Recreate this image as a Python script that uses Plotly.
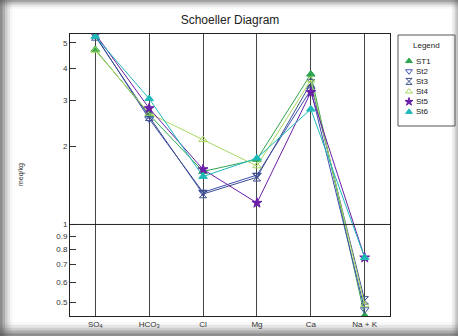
import plotly.graph_objects as go

categories = ["SO<sub>4</sub>", "HCO<sub>3</sub>", "Cl", "Mg", "Ca", "Na + K"]
series_names = ["ST1", "St2", "St3", "St4", "St5", "St6"]
st1 = [4.72, 2.65, 1.60, 1.78, 3.79, 0.445]
st2 = [5.35, 2.55, 1.33, 1.55, 3.30, 0.47]
st3 = [5.30, 2.60, 1.31, 1.52, 3.50, 0.51]
st4 = [4.68, 2.68, 2.12, 1.68, 3.60, 0.49]
st5 = [5.42, 2.80, 1.63, 1.21, 3.23, 0.745]
st6 = [5.30, 3.05, 1.53, 1.80, 2.78, 0.745]
y_ticks = [0.5, 0.6, 0.7, 0.8, 0.9, 1, 2, 3, 4, 5]
y_tick_text = ["0.5", "0.6", "0.7", "0.8", "0.9", "1", "2", "3", "4", "5"]

values = [st1, st2, st3, st4, st5, st6]
colors = ["#2fa44f", "#3f4fb0", "#3c4f8c", "#a8d860", "#6a1fa8", "#1fb8b8"]
symbols = ["triangle-up", "triangle-down-open", "hourglass-open",
           "triangle-up-open", "star", "triangle-up"]

W, H = 458, 336
FONT = "Arial, Liberation Sans, sans-serif"


def px(x):
    return x / W


def py(y):
    return 1 - y / H


fig = go.Figure()
x_idx = list(range(len(categories)))

for name, vals, c, s in zip(series_names, values, colors, symbols):
    fig.add_trace(go.Scatter(
        x=x_idx, y=vals, mode="lines+markers", name=name,
        line=dict(color=c, width=1),
        marker=dict(symbol=s, size=7.5, color=c, line=dict(color=c, width=1)),
        showlegend=False))

# hand-made legend (compact rows) on its own axes
leg_rows = list(range(len(series_names)))
fig.add_trace(go.Scatter(
    x=[0] * len(series_names), y=leg_rows, mode="markers",
    marker=dict(symbol=symbols, size=6, color=colors,
                line=dict(color=colors, width=1)),
    xaxis="x2", yaxis="y2", showlegend=False, hoverinfo="skip", cliponaxis=False))

# frame shadow
shapes = []
for i, op in enumerate([0.35, 0.25, 0.17, 0.1, 0.05]):
    w = 2.5 * (i + 1)
    shapes.append(dict(type="rect", xref="paper", yref="paper", layer="below",
                       x0=0, x1=px(w), y0=0, y1=1,
                       fillcolor="#555", opacity=op, line_width=0))
    shapes.append(dict(type="rect", xref="paper", yref="paper", layer="below",
                       x0=0, x1=1, y0=py(w * 0.7), y1=1,
                       fillcolor="#555", opacity=op * 0.8, line_width=0))
    shapes.append(dict(type="rect", xref="paper", yref="paper", layer="below",
                       x0=0, x1=1, y0=0, y1=(w * 1.1) / H,
                       fillcolor="#555", opacity=op, line_width=0))
    shapes.append(dict(type="rect", xref="paper", yref="paper", layer="below",
                       x0=1 - px(w * 0.6), x1=1, y0=0, y1=1,
                       fillcolor="#555", opacity=op * 0.5, line_width=0))

shapes += [
    dict(type="line", xref="x domain", yref="y", x0=0, x1=1, y0=1, y1=1,
         line=dict(color="#222", width=1)),
    dict(type="rect", xref="paper", yref="paper", x0=px(398), x1=px(455),
         y0=py(126), y1=py(35), line=dict(color="#555", width=1),
         fillcolor="rgba(0,0,0,0)"),
]

legend_text = [
    dict(text=n, xref="paper", yref="y2", x=px(414), y=r, xanchor="left",
         yanchor="middle", showarrow=False,
         font=dict(size=8, family=FONT, color="#222"))
    for n, r in zip(series_names, leg_rows)
]

fig.update_layout(
    width=W, height=H,
    margin=dict(l=0, r=0, t=0, b=0),
    paper_bgcolor="white", plot_bgcolor="white",
    font=dict(family=FONT, size=8, color="#333"),
    showlegend=False,
    title=dict(text="Schoeller Diagram", x=px(230), xref="paper", xanchor="center",
               y=1 - 20 / H, yref="container", yanchor="middle",
               font=dict(family=FONT, size=12, color="#222")),
    xaxis=dict(domain=[px(70), px(390)], range=[-0.47, 5.47], tickvals=x_idx,
               ticktext=categories,
               showgrid=True, gridcolor="#444", gridwidth=1,
               showline=True, linecolor="#222", linewidth=1, mirror=True,
               ticks="", zeroline=False, tickfont=dict(size=8, color="#333")),
    yaxis=dict(domain=[py(316), py(34)], type="log", range=[-0.3526, 0.7336],
               tickvals=y_ticks, ticktext=y_tick_text, showgrid=False,
               showline=True, linecolor="#222", linewidth=1, mirror=True,
               ticks="inside", ticklen=6, tickcolor="#333",
               zeroline=False, tickfont=dict(size=8, color="#333")),
    xaxis2=dict(domain=[px(404), px(414)], range=[-1, 1], visible=False,
                fixedrange=True),
    yaxis2=dict(domain=[py(117), py(56)], range=[5.5, -0.5], visible=False,
                fixedrange=True, anchor="x2"),
    shapes=shapes,
    annotations=[
        dict(text="meq/kg", textangle=-90, xref="paper", yref="paper",
             x=px(21), y=py(175), xanchor="center", yanchor="middle",
             showarrow=False, font=dict(size=7, family=FONT, color="#333")),
        dict(text="Legend", xref="paper", yref="paper", x=px(426.5), y=py(46),
             xanchor="center", yanchor="middle",
             showarrow=False, font=dict(size=8, family=FONT, color="#222")),
    ] + legend_text,
)

fig.write_html("out.html")
